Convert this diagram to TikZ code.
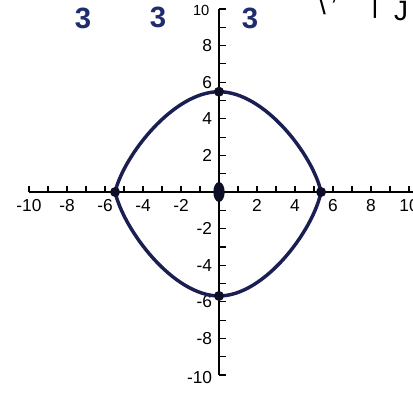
\documentclass[tikz,border=0pt]{standalone}
\usepackage{fontspec}
\setmainfont{Liberation Sans}
\usetikzlibrary{shapes.geometric}
\definecolor{navy}{HTML}{1B1E52}
\definecolor{inkblue}{HTML}{1F2C6E}
\definecolor{dotink}{HTML}{0E0F26}
\tikzset{
  axis/.style={line width=1.1pt, black},
  tickmark/.style={line width=0.9pt, black},
  curve/.style={line width=2.6pt, navy},
  dot/.style={circle, fill=dotink, inner sep=0pt, minimum size=7.5pt},
  bigdot/.style={ellipse, fill=dotink, inner sep=0pt, minimum width=8.5pt, minimum height=15pt},
  lab/.style={font=\fontsize{13}{15}\selectfont, inner sep=0pt},
  hand/.style={font=\fontsize{22}{24}\selectfont\bfseries, text=inkblue, inner sep=0pt},
  handk/.style={font=\fontsize{21}{24}\selectfont, text=black, inner sep=0pt}
}
\begin{document}
\begin{tikzpicture}[x=0.75pt,y=-0.75pt]
\useasboundingbox (0,0) rectangle (413,392);
\fill[white] (0,0) rectangle (413,392);
% handwritten fragments at the top
\node[hand] (t1) at (83,18) {3};
\node[hand] (t2) at (158,17) {3};
\node[hand] (t3) at (250,18) {3};
\node[handk] (t4) at (322,4) {\textbackslash};
\node[handk] (t5) at (334,0) {,};
\node[handk] (t6) at (375,5) {|};
\node[handk] (t7) at (401,11) {J};
\begin{scope}[shift={(219,192)},x=14.25pt,y=13.725pt]
  \coordinate (xl) at (-10,0);
  \coordinate (xr) at (10.5,0);
  \coordinate (yb) at (0,-10);
  \coordinate (yt) at (0,10);
  \draw[axis] (xl) -- (xr);
  \draw[axis] (yb) -- (yt);
  \foreach \i in {-10,...,10} \draw[tickmark] (\i,0) -- ++(0,4.5pt);
  \foreach \j in {-10,...,10} \draw[tickmark] (0,\j) -- ++(5pt,0);
  \foreach \i in {-10,-8,-6,-4,-2,2,4,6,8,10}
    \node[lab] (xlab\i) at ([yshift=-10pt]\i,0) {\i};
  \foreach \j in {-8,-6,-4,-2,2,4,6,8}
    \node[lab, anchor=east] (ylab\j) at ([xshift=-5pt]0,\j) {\j};
  \node[lab, anchor=east, font=\fontsize{11}{13}\selectfont] (ylab10) at ([xshift=-7pt,yshift=-1pt]0,10) {10};
  \node[lab, anchor=east] (ylabm10) at ([xshift=-5pt,yshift=-2pt]0,-10) {-10};
  % curve
  \coordinate (pL) at (-5.47,0);
  \coordinate (pR) at (5.37,0);
  \coordinate (pT) at (0,5.48);
  \coordinate (pB) at (0,-5.68);
  \draw[curve] (pL) .. controls (-5.0,2.0) and (-2.4,5.48) .. (pT)
     .. controls (2.4,5.48) and (4.95,2.0) .. (pR)
     .. controls (4.95,-2.1) and (2.4,-5.68) .. (pB)
     .. controls (-2.4,-5.68) and (-5.0,-2.1) .. (pL) -- cycle;
  \node[dot] (L) at (pL) {};
  \node[dot] (R) at (pR) {};
  \node[dot] (T) at (pT) {};
  \node[dot] (B) at (pB) {};
  \node[bigdot] (O) at (0,0) {};
\end{scope}
\end{tikzpicture}
\end{document}
